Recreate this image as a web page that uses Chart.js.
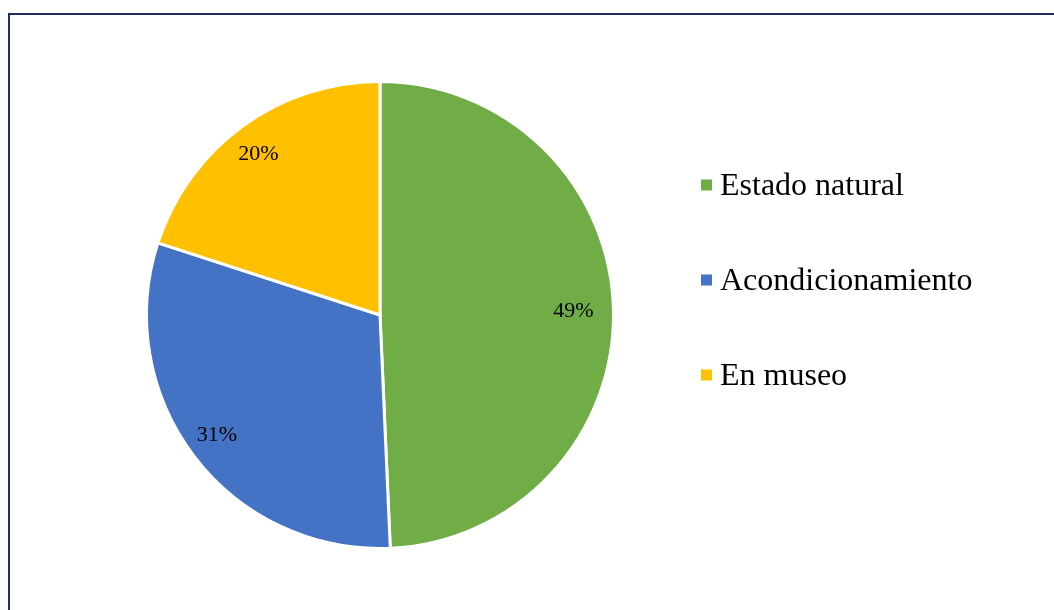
<!DOCTYPE html>
<html>
<head>
<meta charset="utf-8">
<script src="https://cdn.jsdelivr.net/npm/chart.js@4/dist/chart.umd.min.js"></script>
<style>
	body { margin: 0; background: #fff; }
	#wrap { position: relative; width: 1054px; height: 610px; }
	#frame {
		position: absolute; left: 8px; top: 13px; right: 0; bottom: 0;
		border-left: 2px solid #1f3060; border-top: 2px solid #1f3060;
	}
	#chart { position: absolute; left: 0; top: 0; }
</style>
</head>
<body>
<div id="wrap">
	<div id="frame"></div>
	<canvas id="chart" width="1054" height="610"></canvas>
</div>
<script>
const labels = ["Estado natural", "Acondicionamiento", "En museo"];
const values = [49.3, 30.7, 20.0];
const colors = ["#70ad47", "#4472c4", "#ffc000"];

// percent labels inside slices + legend on the right
const drawText = {
	id: "drawText",
	afterDatasetsDraw(chart) {
		let ctx = chart.ctx;
		let meta = chart.getDatasetMeta(0);
		let total = values.reduce((a, b) => a + b, 0);
		ctx.save();
		ctx.fillStyle = "#000";
		ctx.font = "22px 'Liberation Serif', 'Times New Roman', serif";
		ctx.textAlign = "center";
		ctx.textBaseline = "alphabetic";
		meta.data.forEach((arc, i) => {
			let p = arc.getProps(["x", "y", "startAngle", "endAngle", "outerRadius"], true);
			let mid = (p.startAngle + p.endAngle) / 2;
			let r = p.outerRadius * 0.85;
			let txt = Math.round((values[i] / total) * 100) + "%";
			ctx.fillText(txt, p.x + Math.cos(mid) * r - 5, p.y + Math.sin(mid) * r + 6);
		});

		ctx.textAlign = "left";
		ctx.font = "32px 'Liberation Serif', 'Times New Roman', serif";
		let lx = 701, ly = 185, gap = 95;
		labels.forEach((lab, i) => {
			let y = ly + i * gap;
			ctx.fillStyle = colors[i];
			ctx.fillRect(lx, y - 5.5, 11, 11);
			ctx.fillStyle = "#000";
			ctx.fillText(lab, lx + 19, y + 10);
		});
		ctx.restore();
	},
};

new Chart(document.getElementById("chart"), {
	type: "pie",
	data: {
		labels: labels,
		datasets: [
			{
				data: values,
				backgroundColor: colors,
				borderColor: "#ffffff",
				borderWidth: 3,
			},
		],
	},
	options: {
		responsive: false,
		animation: false,
		layout: { padding: { left: 145, right: 439, top: 80, bottom: 60 } },
		plugins: {
			legend: { display: false },
			tooltip: { enabled: false },
		},
	},
	plugins: [drawText],
});
</script>
</body>
</html>
